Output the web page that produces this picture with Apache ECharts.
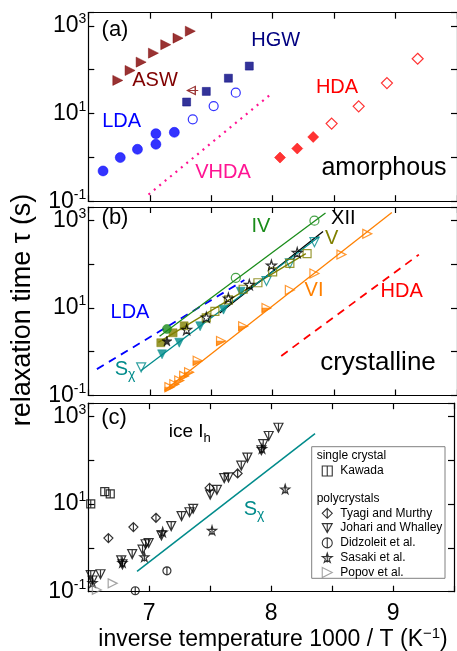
<!DOCTYPE html>
<html>
<head>
<meta charset="utf-8">
<script src="https://cdn.jsdelivr.net/npm/echarts@6/dist/echarts.min.js"></script>
<style>
html, body { margin: 0; padding: 0; background: #fff; }
#chart { width: 457px; height: 651px; }
</style>
</head>
<body>
<div id="chart"></div>
<script>
var FONT = '"Liberation Sans", Arial, sans-serif';

// x = 1000/T (1/K), y = tau (s)
// (a) amorphous
var aswFilled = [[6.74, 57], [6.84, 96], [6.93, 149], [7.03, 239], [7.13, 372], [7.23, 525], [7.33, 757]];
var aswOpen = [[7.35, 33.7]];
var hgw = [[7.30, 18.3], [7.46, 32], [7.64, 64], [7.81, 121]];
var ldaFilled = [[6.62, 0.49], [6.76, 0.99], [6.90, 1.53], [7.05, 1.99], [7.05, 3.48], [7.20, 3.73]];
var ldaOpen = [[7.35, 7.4], [7.52, 14.8], [7.70, 30]];
var hdaFilled = [[8.06, 0.99], [8.20, 1.59], [8.33, 2.92]];
var hdaOpen = [[8.48, 5.9], [8.70, 14.6], [8.93, 49.5], [9.18, 178]];
var vhdaLine = [[6.99, 0.142], [7.99, 28.4]];

// (b) crystalline
var ldaDash = [[6.57, 0.40], [7.77, 43]];
var hdaDash = [[8.07, 0.80], [9.19, 164]];
var ivLine = [[7.08, 2.26], [8.43, 1455]];
var ivFilled = [[7.14, 3.3]];
var ivOpen = [[7.70, 48.5], [8.34, 975]];
var vLine = [[7.07, 1.63], [8.27, 173]];
var vFilled = [[7.09, 1.6], [7.19, 2.7], [7.28, 3.9]];
var vOpen = [[7.46, 5.9], [7.53, 8.3], [7.64, 15.2], [7.76, 26.6], [7.88, 37.4], [8.00, 66], [8.14, 103], [8.28, 173]];
var xiiLine = [[7.57, 7.6], [8.41, 550]];
var xiiFilled = [[7.14, 1.75]];
var xiiOpen = [[7.30, 3.2], [7.46, 6.1], [7.64, 16.6], [7.81, 34], [7.99, 94], [8.20, 182]];
var sxLine = [[6.93, 0.37], [8.38, 425]];
var sxFilled = [[7.10, 0.87], [7.24, 1.6], [7.41, 3.8], [7.60, 9.1], [7.74, 23.4]];
var sxOpen = [[6.93, 0.44], [7.95, 41], [8.14, 103], [8.34, 315]];
var viLine = [[7.12, 0.13], [8.97, 1500]];
var viPts = [[7.16, 0.155], [7.20, 0.18], [7.24, 0.22], [7.28, 0.28], [7.32, 0.34], [7.39, 0.62], [7.58, 1.75],
             [7.76, 3.8], [7.95, 9.9], [8.14, 25.6], [8.34, 61], [8.56, 164], [8.77, 488]];
var viHalf = [[7.16, 0.155], [7.20, 0.18], [7.24, 0.22], [7.28, 0.28], [7.32, 0.34], [7.39, 0.62], [7.58, 1.75], [7.76, 3.8], [7.95, 9.9]];

// (c) ice Ih
var sxLineC = [[6.90, 0.29], [8.36, 403]];
var kawada = [[6.52, 10.1], [6.635, 19.2], [6.68, 17.0]];
var tyagi = [[6.665, 1.67], [6.87, 2.98], [7.055, 4.86], [7.495, 23.3], [7.725, 49.9]];
var johari = [[6.52, 0.24], [6.60, 0.25], [6.535, 0.18], [6.77, 0.52], [6.78, 0.42], [6.86, 0.72], [6.945, 0.91],
              [6.97, 1.21], [6.995, 1.29], [7.10, 1.93], [7.18, 3.14], [7.265, 5.3], [7.33, 6.5], [7.36, 7.8],
              [7.50, 16.4], [7.555, 21], [7.615, 39], [7.65, 40.5], [7.755, 75], [7.805, 115], [7.92, 169],
              [7.935, 232], [7.98, 357], [8.06, 551]];
var didzoleit = [[7.145, 0.30], [6.885, 0.105]];
var sasaki = [[6.535, 0.16], [6.78, 0.46], [6.96, 0.62], [7.11, 2.3], [7.515, 2.5], [8.115, 22], [7.925, 184]];
var popov = [[6.70, 0.155], [6.57, 0.11]];

var xTicks = [7, 8, 9];

var SYM = {
  triR: 'path://M0,0L20,10L0,20Z',
  triRHalf: 'path://M0,0L0.01,0M0,10L20,10L0,20Z',
  triLArrow: 'path://M16,0L0,8L16,16Z M0,8L22,8',
  triD: 'path://M0,0L20,0L10,18Z',
  star: 'path://M50,0L61,35L98,35L68,57L79,91L50,70L21,91L32,57L2,35L39,35Z',
  starBar: 'path://M50,0L61,35L98,35L68,57L79,91L50,70L21,91L32,57L2,35L39,35Z M50,0L50,91',
  sqBar: 'path://M0,0L20,0L20,20L0,20Z M10,0L10,20',
  diaBar: 'path://M10,0L20,10L10,20L0,10Z M10,0L10,20',
  triDBar: 'path://M0,0L20,0L10,18Z M10,0L10,18',
  circBar: 'path://M0,10A10,10,0,1,1,20,10A10,10,0,1,1,0,10Z M10,0L10,20'
};

var myChart = echarts.init(document.getElementById('chart'), null, { renderer: 'canvas' });

var grids = [
  { left: 88.3, top: 12.7, width: 370, height: 188.5 },
  { left: 88.3, top: 207, width: 370, height: 188.5 },
  { left: 88.3, top: 403.2, width: 370, height: 188.5 }
];

var axLine = { show: true, lineStyle: { color: '#000', width: 1.2 } };
var xAxes = [], yAxes = [];
grids.forEach(function (g, i) {
  ['bottom', 'top'].forEach(function (pos) {
    xAxes.push({
      type: 'value', gridIndex: i, position: pos, min: 6.5, max: 9.5, interval: 0.5,
      axisLine: axLine,
      axisTick: { show: true, inside: true, length: 6, lineStyle: { color: '#000', width: 1.2 } },
      splitLine: { show: false },
      axisLabel: {
        show: i === 2 && pos === 'bottom', margin: 10,
        color: '#000', fontSize: 23, fontFamily: FONT,
        formatter: function (v) {
          return xTicks.indexOf(Math.round(v * 100) / 100) >= 0 ? String(v) : '';
        }
      }
    });
  });
  ['left', 'right'].forEach(function (pos) {
    yAxes.push({
      type: 'log', logBase: 10, gridIndex: i, position: pos, min: 0.1, max: 2000,
      axisLine: axLine,
      axisTick: { show: true, inside: true, length: 6, lineStyle: { color: '#000', width: 1.2 } },
      splitLine: { show: false },
      minorTick: { show: false },
      axisLabel: {
        show: pos === 'left', margin: 2,
        color: '#000', fontSize: 23, fontFamily: FONT,
        formatter: function (v) {
          var e = Math.log10(v), r = Math.round(e);
          if (Math.abs(e - r) > 1e-3 || r % 2 === 0) return '';
          return '10{s|' + r + '}';
        },
        rich: { s: { fontSize: 14, fontFamily: FONT, color: '#000', padding: [0, 0, 13, 0] } }
      }
    });
  });
});

function pts(name, data, g, symbol, size, color, hollow, z) {
  return {
    name: name, type: 'scatter', xAxisIndex: 2 * g, yAxisIndex: 2 * g, data: data,
    symbol: symbol, symbolSize: size, z: z || 3,
    itemStyle: hollow
      ? { color: 'rgba(0,0,0,0)', borderColor: color, borderWidth: 1.2 }
      : { color: color, borderColor: color, borderWidth: 0.6 },
    emphasis: { disabled: true }
  };
}
function seg(name, data, g, color, type, width) {
  return {
    name: name, type: 'line', xAxisIndex: 2 * g, yAxisIndex: 2 * g, data: data,
    showSymbol: false, symbol: 'none', silent: true, z: 2,
    lineStyle: { color: color, width: width, type: type }
  };
}

var C = {
  asw: '#800000', hgw: '#000080', lda: '#0000ff', hda: '#ff0000', vhda: '#ff1493',
  iv: '#1a8c1a', v: '#808000', sx: '#008b8b', vi: '#ff8000', gray: '#8c8c8c'
};

var series = [
  // (a)
  seg('VHDA', vhdaLine, 0, C.vhda, [2, 5], 2.2),
  pts('ASW', aswFilled, 0, SYM.triR, 10, C.asw, false),
  pts('ASW open', aswOpen, 0, SYM.triLArrow, [11, 8], C.asw, true),
  pts('HGW', hgw, 0, 'rect', 8, C.hgw, false),
  pts('LDA', ldaFilled, 0, 'circle', 10, C.lda, false),
  pts('LDA open', ldaOpen, 0, 'circle', 9, C.lda, true),
  pts('HDA', hdaFilled, 0, 'diamond', 11, C.hda, false),
  pts('HDA open', hdaOpen, 0, 'diamond', 11, C.hda, true),
  // (b)
  seg('LDA dash', ldaDash, 1, C.lda, [8, 6], 1.8),
  seg('HDA dash', hdaDash, 1, C.hda, [8, 6], 1.8),
  seg('IV line', ivLine, 1, C.iv, 'solid', 1.3),
  seg('V line', vLine, 1, C.v, 'solid', 1.3),
  seg('XII line', xiiLine, 1, '#000', 'solid', 1.3),
  seg('Sx line', sxLine, 1, C.sx, 'solid', 1.3),
  seg('VI line', viLine, 1, C.vi, 'solid', 1.3),
  pts('VI', viPts, 1, SYM.triR, 9, C.vi, true),
  pts('VI half', viHalf, 1, SYM.triRHalf, 9, C.vi, false, 4),
  pts('Sx filled', sxFilled, 1, SYM.triD, 9, C.sx, false),
  pts('Sx open', sxOpen, 1, SYM.triD, 9, C.sx, true),
  pts('V filled', vFilled, 1, 'rect', 8, C.v, false),
  pts('V open', vOpen, 1, 'rect', 8, C.v, true),
  pts('IV filled', ivFilled, 1, 'circle', 9, C.iv, false),
  pts('IV open', ivOpen, 1, 'circle', 9, C.iv, true),
  pts('XII filled', xiiFilled, 1, SYM.star, 10, '#000', false, 5),
  pts('XII open', xiiOpen, 1, SYM.star, 10, '#000', true, 5),
  // (c)
  seg('Sx c', sxLineC, 2, C.sx, 'solid', 1.5),
  pts('Kawada', kawada, 2, SYM.sqBar, 8, '#000', true),
  pts('Tyagi and Murthy', tyagi, 2, SYM.diaBar, 9, '#000', true),
  pts('Johari and Whalley', johari, 2, SYM.triDBar, 9, '#000', true),
  pts('Didzoleit et al.', didzoleit, 2, SYM.circBar, 8, '#000', true),
  pts('Sasaki et al.', sasaki, 2, SYM.starBar, 9, '#000', true),
  pts('Popov et al.', popov, 2, SYM.triR, 9, C.gray, true)
];

function txt(text, x, y, color, size, align, rich) {
  return {
    type: 'text', z: 10, silent: true,
    style: {
      text: text, x: x, y: y, fill: color, fontSize: size, fontFamily: FONT,
      align: align || 'center', verticalAlign: 'middle',
      textAlign: align || 'center', textVerticalAlign: 'middle',
      rich: rich
    }
  };
}
var subRich = function (size, color, pad) {
  return { sub: { fontSize: size, fontFamily: FONT, fill: color, color: color, padding: [pad, 0, 0, 0] } };
};

var graphics = [
  txt('(a)', 115, 30, '#000', 22),
  txt('ASW', 155, 80.8, C.asw, 20),
  txt('HGW', 275.8, 40, C.hgw, 20),
  txt('LDA', 121.7, 121.7, C.lda, 20),
  txt('HDA', 337, 87, C.hda, 20),
  txt('VHDA', 223, 172, C.vhda, 20),
  txt('amorphous', 384, 168, '#000', 25),

  txt('(b)', 115, 217.5, '#000', 22),
  txt('IV', 261, 226.7, C.iv, 20),
  txt('XII', 343.3, 218.7, '#000', 20),
  txt('V', 331.7, 238, C.v, 20),
  txt('VI', 314, 290, C.vi, 20),
  txt('HDA', 401.7, 291.3, C.hda, 20),
  txt('LDA', 130, 312, C.lda, 20),
  txt('S{sub|χ}', 125, 369, C.sx, 20, 'center', subRich(14, C.sx, 12)),
  txt('crystalline', 378, 362.4, '#000', 26),

  txt('(c)', 114, 418, '#000', 22),
  txt('ice I{sub|h}', 168.7, 432, '#000', 19, 'left', subRich(13, '#000', 12)),
  txt('S{sub|χ}', 254, 509, C.sx, 20, 'center', subRich(14, C.sx, 12)),

  {
    type: 'rect', z: 3, silent: true,
    shape: { x: 311.7, y: 446.7, width: 133.3, height: 131.6 },
    style: { fill: '#fff', stroke: '#808080', lineWidth: 1 }
  },
  txt('single crystal', 316.7, 455.7, '#000', 12, 'left'),
  txt('polycrystals', 316.7, 499, '#000', 12, 'left'),

  txt('inverse temperature 1000 / T (K{sup|−1})', 273, 640, '#000', 23, 'center',
      { sup: { fontSize: 15, fontFamily: FONT, fill: '#000', color: '#000', padding: [0, 0, 13, 0] } }),
  {
    type: 'text', z: 10, silent: true, x: 23, y: 310, rotation: Math.PI / 2,
    style: {
      text: 'relaxation time τ (s)', x: 0, y: 0, fill: '#000', fontSize: 27, fontFamily: FONT,
      align: 'center', verticalAlign: 'middle', textAlign: 'center', textVerticalAlign: 'middle'
    }
  }
];

var legendCommon = {
  orient: 'vertical', padding: 0, itemWidth: 10, itemHeight: 10, selectedMode: false, z: 6,
  itemStyle: { borderWidth: 1.1 },
  textStyle: { fontSize: 12, fontFamily: FONT, color: '#000', padding: [0, 0, 0, 3] }
};

var option = {
  animation: false,
  backgroundColor: '#fff',
  grid: grids,
  xAxis: xAxes,
  yAxis: yAxes,
  legend: [
    Object.assign({ data: ['Kawada'], left: 321.7, top: 465 }, legendCommon),
    Object.assign({
      data: ['Tyagi and Murthy', 'Johari and Whalley', 'Didzoleit et al.', 'Sasaki et al.', 'Popov et al.'],
      left: 321.7, top: 507.3, itemGap: 2.8
    }, legendCommon)
  ],
  graphic: graphics,
  series: series
};

myChart.setOption(option);
</script>
</body>
</html>
